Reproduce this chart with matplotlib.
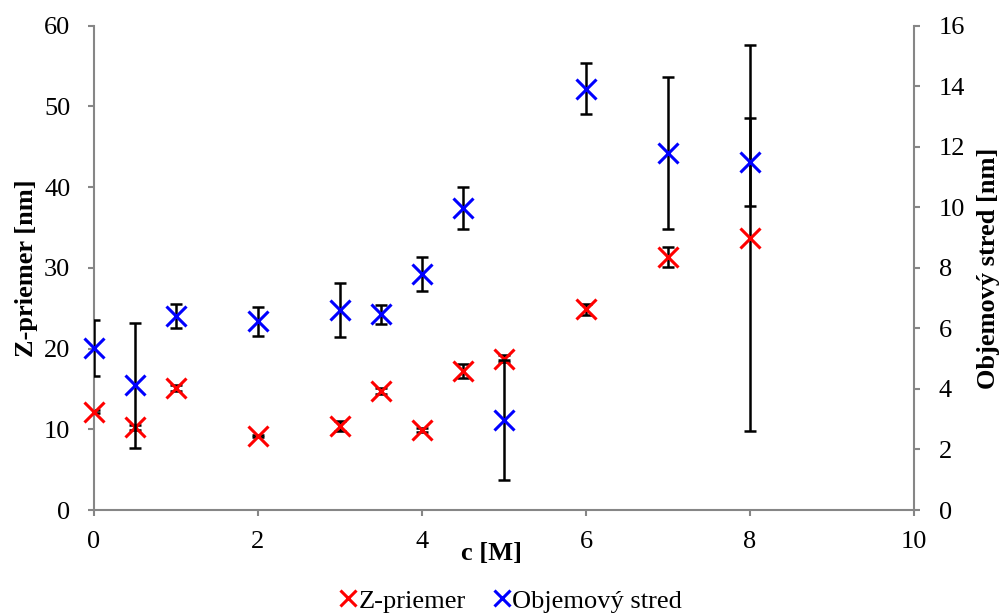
import numpy as np
import matplotlib.pyplot as plt
from matplotlib.lines import Line2D

plt.rcParams['font.family'] = ['Liberation Serif', 'DejaVu Serif']

c = np.array([0, 0.5, 1, 2, 3, 3.5, 4, 4.5, 5, 6, 7, 8])
z_priemer = np.array([12.2, 10.25, 15.15, 9.2, 10.45, 14.75, 9.9, 17.2, 18.75, 24.85, 31.3, 33.7])
z_err = np.array([0.2, 0.3, 0.35, 0.1, 0.6, 0.35, 0.2, 0.85, 0.4, 0.7, 1.25, 23.9])
obj_stred = np.array([5.35, 4.12, 6.42, 6.23, 6.6, 6.47, 7.8, 9.98, 2.97, 13.92, 11.8, 11.5])
obj_err = np.array([0.93, 2.06, 0.39, 0.47, 0.89, 0.31, 0.57, 0.7, 1.98, 0.85, 2.5, 1.45])

gray = '#868686'
fs = 19

fig, ax1 = plt.subplots(figsize=(10.01, 6.13), dpi=100)
fig.subplots_adjust(left=0.0939, right=0.913, bottom=0.168, top=0.958)
ax2 = ax1.twinx()

# Z-priemer na lavej osi
ax1.errorbar(c, z_priemer, yerr=z_err, fmt='none', ecolor='black',
             elinewidth=1.8, capsize=4.5, capthick=1.8, zorder=2)
ax1.plot(c, z_priemer, 'x', color='red', markersize=14, markeredgewidth=2.2,
         zorder=3, clip_on=False)

# objemovy stred na pravej osi
ax2.errorbar(c, obj_stred, yerr=obj_err, fmt='none', ecolor='black',
             elinewidth=1.8, capsize=4.5, capthick=1.8, zorder=2)
ax2.plot(c, obj_stred, 'x', color='blue', markersize=14, markeredgewidth=2.2,
         zorder=3, clip_on=False)

ax1.set_xlim(0, 10)
ax1.set_ylim(0, 60)
ax2.set_ylim(0, 16)
ax1.set_xticks(np.arange(0, 11, 2))
ax1.set_yticks(np.arange(0, 61, 10))
ax2.set_yticks(np.arange(0, 17, 2))

for ax in (ax1, ax2):
    ax.spines['top'].set_visible(False)
    for s in ('left', 'right', 'bottom'):
        ax.spines[s].set_color(gray)
        ax.spines[s].set_linewidth(1.5)
    ax.tick_params(colors=gray, labelcolor='black', labelsize=fs,
                   direction='out', length=4, width=1.5)
ax1.spines['right'].set_visible(False)
ax2.spines['left'].set_visible(False)
ax2.spines['bottom'].set_visible(False)
ax1.tick_params(axis='y', pad=13)
ax1.tick_params(axis='x', pad=11)
ax2.tick_params(axis='y', pad=14)

ax1.set_xlabel('c [M]', fontsize=fs, fontweight='bold')
ax1.xaxis.set_label_coords(0.485, -0.066)
ax1.set_ylabel('Z-priemer [nm]', fontsize=fs, fontweight='bold')
ax1.yaxis.set_label_coords(-0.068, 0.5)
ax2.set_ylabel('Objemový stred [nm]', fontsize=fs, fontweight='bold', labelpad=8)

handles = [Line2D([], [], ls='none', marker='x', color='red', markersize=12, markeredgewidth=2.2),
           Line2D([], [], ls='none', marker='x', color='blue', markersize=12, markeredgewidth=2.2)]
fig.legend(handles, ['Z-priemer', 'Objemový stred'], loc='lower center',
           bbox_to_anchor=(0.51, -0.038), ncol=2, frameon=False, fontsize=fs,
           handlelength=0.7, handletextpad=0.05, columnspacing=1.0)

fig.savefig('out.png', dpi=100)
